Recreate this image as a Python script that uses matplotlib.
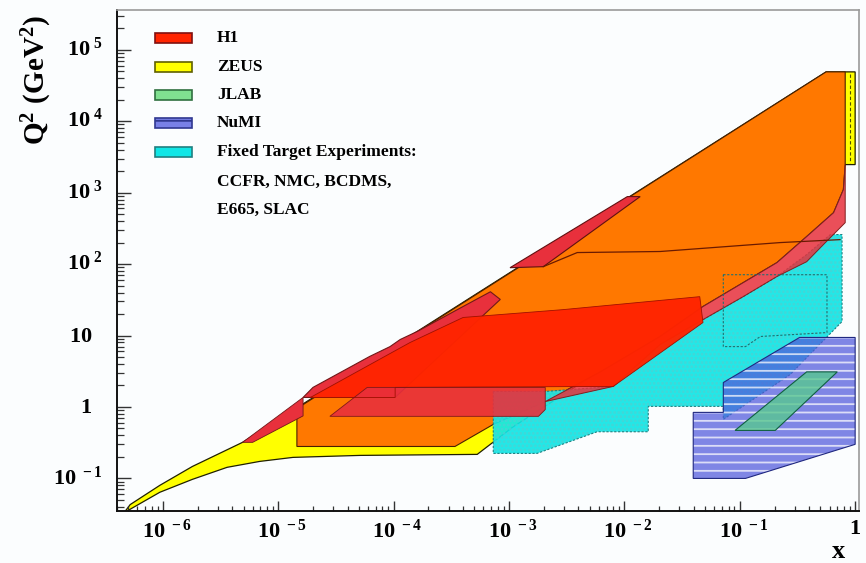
import matplotlib
matplotlib.use("Agg")
import matplotlib.pyplot as plt
import matplotlib.transforms as mtransforms
from matplotlib.patches import Polygon, Rectangle
from matplotlib.ticker import FixedLocator, LogLocator, NullFormatter

plt.rcParams['font.family'] = ['Liberation Serif', 'DejaVu Serif']
plt.rcParams['font.weight'] = 'bold'
plt.rcParams['mathtext.fontset'] = 'custom'
plt.rcParams['mathtext.rm'] = 'Liberation Serif:bold'
plt.rcParams['mathtext.bf'] = 'Liberation Serif:bold'
plt.rcParams['mathtext.it'] = 'Liberation Serif:bold'
plt.rcParams['hatch.linewidth'] = 1.3

# ---------------- data (x, Q^2 in GeV^2) ----------------
zeus_x = [4.6e-7, 5.2e-7, 9.4e-7, 1.8e-6, 4.9e-6, 0.56, 1.0, 1.0, 0.82, 0.33,
          1.09e-3, 5.3e-4, 5.1e-5, 1.34e-5, 6.9e-6, 3.6e-6, 1.8e-6, 9.4e-7, 5.5e-7]
zeus_q2 = [0.033, 0.043, 0.080, 0.147, 0.32, 4.9e4, 4.9e4, 2470, 2470, 200,
           0.53, 0.217, 0.21, 0.197, 0.173, 0.143, 0.097, 0.064, 0.039]

orange_x = [1.45e-5, 1.45e-5, 0.56, 0.82, 0.82, 0.79, 0.65, 0.38, 0.21, 0.107,
            4.8e-2, 2.04e-2, 6.2e-3, 2.06e-3, 7.3e-4, 3.4e-4]
orange_q2 = [0.28, 0.95, 4.9e4, 4.9e4, 2470, 1100, 525, 243, 105, 55,
             25.5, 9.7, 3.1, 1.19, 0.57, 0.28]

h1_band_x = [0.82, 0.82, 0.53, 0.38, 0.21, 0.107, 4.8e-2, 2.04e-2, 8.0e-3, 2.06e-3,
             6.2e-3, 2.04e-2, 4.8e-2, 0.107, 0.21, 0.38, 0.65, 0.79]
h1_band_q2 = [2470, 380, 187, 108, 67, 35, 16.7, 7.5, 1.94, 1.19,
              3.1, 9.7, 25.5, 55, 105, 243, 525, 1100]

h1_lowx_x = [1.64e-5, 2.0e-5, 6.2e-5, 9.3e-5, 1.14e-4, 1.6e-4, 4.0e-4, 6.9e-4, 8.4e-4, 1.03e-4]
h1_lowx_q2 = [1.36, 1.88, 5.1, 7.0, 8.8, 11.4, 25.5, 41, 32, 1.36]

h1_tip_x = [4.9e-6, 1.64e-5, 1.64e-5, 6.0e-6]
h1_tip_q2 = [0.32, 1.36, 0.75, 0.32]

h1_main_x = [1.9e-5, 6.2e-5, 1.39e-4, 4.0e-4, 2.9e-3, 4.5e-2, 4.8e-2, 8.0e-3, 1.03e-4, 1.03e-4]
h1_main_q2 = [1.36, 3.9, 8.0, 17.9, 23, 35, 15.2, 1.94, 1.88, 1.36]

h1_box_x = [2.8e-5, 5.9e-5, 2.06e-3, 2.06e-3, 1.8e-3]
h1_box_q2 = [0.74, 1.88, 1.88, 0.92, 0.74]

h1_top_x = [1.02e-3, 1.06e-2, 1.37e-2, 1.98e-3]
h1_top_q2 = [89, 880, 880, 92]

h1_line_x = [1.98e-3, 3.9e-3, 2.04e-2, 0.224, 0.74]
h1_line_q2 = [92, 145, 150, 200, 220]

fixed_x = [7.3e-4, 7.3e-4, 1.75e-3, 5.8e-3, 1.61e-2, 1.61e-2, 7.2e-2, 7.2e-2, 0.274, 0.77,
           0.77, 0.61, 0.38, 0.21, 0.107, 4.8e-2, 2.04e-2, 8.0e-3, 2.06e-3]
fixed_q2 = [1.65, 0.224, 0.224, 0.45, 0.45, 1.02, 1.02, 0.67, 2.85, 15.7,
            259, 259, 136, 67, 35, 16.7, 7.5, 1.94, 1.65]

fixed_box_x = [7.2e-2, 0.57, 0.57, 0.151, 0.112, 7.2e-2]
fixed_box_q2 = [71, 71, 11, 9.7, 7.0, 7.0]

numi_x = [3.95e-2, 3.95e-2, 0.112, 1.0, 1.0, 0.33, 7.2e-2, 7.2e-2]
numi_q2 = [0.84, 0.10, 0.10, 0.30, 9.4, 9.4, 2.2, 0.84]

jlab_x = [9.1e-2, 0.203, 0.70, 0.38]
jlab_q2 = [0.47, 0.47, 3.1, 3.1]

legend_names = ["H1", "ZEUS", "JLAB", "NuMI", "Fixed Target Experiments:"]
legend_extra = ["CCFR, NMC, BCDMS,", "E665, SLAC"]

x_ticks = [1e-6, 1e-5, 1e-4, 1e-3, 1e-2, 1e-1, 1]
x_labels = [r'$10^{\ -6}$', r'$10^{\ -5}$', r'$10^{\ -4}$', r'$10^{\ -3}$',
            r'$10^{\ -2}$', r'$10^{\ -1}$', r'$1$']
y_ticks = [1e-1, 1, 10, 1e2, 1e3, 1e4, 1e5]
y_labels = [r'$10^{\ -1}$', r'$1$', r'$10$', r'$10^{\ 2}$',
            r'$10^{\ 3}$', r'$10^{\ 4}$', r'$10^{\ 5}$']

# ---------------- colours ----------------
C_YEL = '#ffff00'
C_ORA = '#ff7800'
C_RED = '#ff2400'
C_PNK = '#e8303c'
C_CYN = '#10e6e6'
C_BLU = '#5058dc'
C_GRN = '#58c890'

fig = plt.figure(figsize=(8.66, 5.63), dpi=100)
fig.patch.set_facecolor('#fbfdfe')
ax = fig.add_axes([117/866, 1-511/563, 742/866, 501/563])
ax.set_facecolor('#fbfdfe')
ax.set_xscale('log')
ax.set_yscale('log')
ax.set_xlim(4.0e-7, 1.08)
ax.set_ylim(0.035, 3.6e5)


def poly(xs, ys, fc, ec='#3a1a00', lw=0.8, alpha=1.0, z=1, ls='-', hatch=None, hc=None):
    pts = list(zip(xs, ys))
    ax.add_patch(Polygon(pts, closed=True, facecolor=fc, edgecolor='none',
                         alpha=alpha, zorder=z))
    if hatch:
        ax.add_patch(Polygon(pts, closed=True, facecolor='none', edgecolor=hc,
                             linewidth=0, hatch=hatch, alpha=alpha, zorder=z))
    if ec != 'none':
        ax.add_patch(Polygon(pts, closed=True, facecolor='none', edgecolor=ec,
                             linewidth=lw, linestyle=ls, zorder=z + 0.05))


poly(zeus_x, zeus_q2, C_YEL, ec='#202000', lw=0.9, z=1)
poly(orange_x, orange_q2, C_ORA, ec='#4a2000', lw=0.8, z=2)
poly(fixed_x, fixed_q2, C_CYN, ec='#208080', lw=0.8, alpha=0.92, z=3, ls=(0, (2, 1.5)),
     hatch='....', hc='#48d4d4')
poly(h1_band_x, h1_band_q2, C_PNK, ec='#802020', lw=0.7, alpha=0.85, z=4)
poly(h1_lowx_x, h1_lowx_q2, C_PNK, ec='#701818', lw=0.8, z=5)
poly(h1_tip_x, h1_tip_q2, C_PNK, ec='#701818', lw=0.6, z=5)
poly(h1_main_x, h1_main_q2, C_RED, ec='#a01000', lw=0.6, alpha=0.97, z=6)
poly(h1_box_x, h1_box_q2, C_PNK, ec='#801818', lw=0.6, alpha=0.9, z=6)
poly(h1_top_x, h1_top_q2, C_PNK, ec='#601010', lw=0.8, z=6)
ax.plot(h1_line_x, h1_line_q2, color='#6a1a00', lw=0.9, zorder=6.5)
poly(fixed_box_x, fixed_box_q2, 'none', ec='#207070', lw=0.8, z=7, ls=(0, (2, 1.5)))
poly(numi_x, numi_q2, C_BLU, ec='#202880', lw=0.8, alpha=0.72, z=8,
     hatch='--', hc='white')
poly(jlab_x, jlab_q2, C_GRN, ec='#106040', lw=0.8, alpha=0.8, z=9)
# dashed line in the ZEUS strip at high x
ax.plot([0.91, 0.91], [4.6e4, 2600], color='#505000', lw=0.8, ls=(0, (3, 2)), zorder=3)

# ---------------- axes styling ----------------
for side in ['top', 'right']:
    ax.spines[side].set_color('#9a9a9a')
    ax.spines[side].set_linewidth(1.2)
for side in ['left', 'bottom']:
    ax.spines[side].set_color('#111111')
    ax.spines[side].set_linewidth(1.4)

ax.xaxis.set_major_locator(FixedLocator(x_ticks))
ax.xaxis.set_minor_locator(LogLocator(base=10, subs=range(2, 10), numticks=20))
ax.xaxis.set_minor_formatter(NullFormatter())
ax.set_xticklabels(x_labels)
ax.yaxis.set_major_locator(FixedLocator(y_ticks))
ax.yaxis.set_minor_locator(LogLocator(base=10, subs=range(2, 10), numticks=20))
ax.yaxis.set_minor_formatter(NullFormatter())
ax.set_yticklabels([])

ax.tick_params(axis='x', which='major', direction='in', length=7.5, width=1.0,
               labelsize=16, pad=6, top=False, color='#333333')
ax.tick_params(axis='x', which='minor', direction='in', length=3.8, width=0.9,
               top=False, color='#333333')
ax.tick_params(axis='y', which='major', direction='in', length=10, width=1.0,
               labelsize=16, pad=2, right=False, color='#333333')
ax.tick_params(axis='y', which='minor', direction='in', length=5, width=0.9,
               right=False, color='#333333')

# x tick labels with exponents nudged slightly right, as in the original
shift = mtransforms.ScaledTranslation(4/100, 0, fig.dpi_scale_trans)
for lbl in ax.get_xticklabels()[:-1]:
    lbl.set_transform(lbl.get_transform() + shift)

# y tick labels placed by hand ("10" and "1" sit further left, as in the original)
ytrans = ax.get_yaxis_transform()
down = mtransforms.ScaledTranslation(0, -6/100, fig.dpi_scale_trans)
for val, lab in zip(y_ticks, y_labels):
    xr = -14/742 if '^' in lab else -25/742
    ax.text(xr, val, lab, transform=ytrans + down, ha='right', va='baseline',
            fontsize=16, clip_on=False)

fig.text(37/866, 1-80/563, r'$\mathbf{Q^{2}\ (GeV^{2})}$', rotation=90,
         ha='center', va='center', fontsize=21)
fig.text(845/866, 1-551/563, 'x', ha='right', va='center', fontsize=19,
         fontweight='bold')

# ---------------- legend ----------------
leg_fc = [C_RED, C_YEL, '#80e090', '#7880e6', C_CYN]
leg_ec = ['#801010', '#606000', '#307040', '#303890', '#208080']
leg_y = [38, 67, 95, 123, 152]
for name, fc, ec, yp in zip(legend_names, leg_fc, leg_ec, leg_y):
    yf = (511 - yp) / 501
    ax.add_patch(Rectangle(((155-117)/742, yf - 5/501), 37/742, 10/501,
                           transform=ax.transAxes, facecolor=fc, edgecolor=ec,
                           linewidth=1.2, zorder=20,
                           hatch='--' if name == 'NuMI' else None))
    ax.text((217-117)/742, yf, name, transform=ax.transAxes, ha='left',
            va='center', fontsize=12.5, fontweight='bold', zorder=20)
for name, yp in zip(legend_extra, [182, 210]):
    ax.text((217-117)/742, (511 - yp) / 501, name, transform=ax.transAxes,
            ha='left', va='center', fontsize=12.5, fontweight='bold', zorder=20)

fig.savefig('out.png', dpi=100, facecolor=fig.get_facecolor())
